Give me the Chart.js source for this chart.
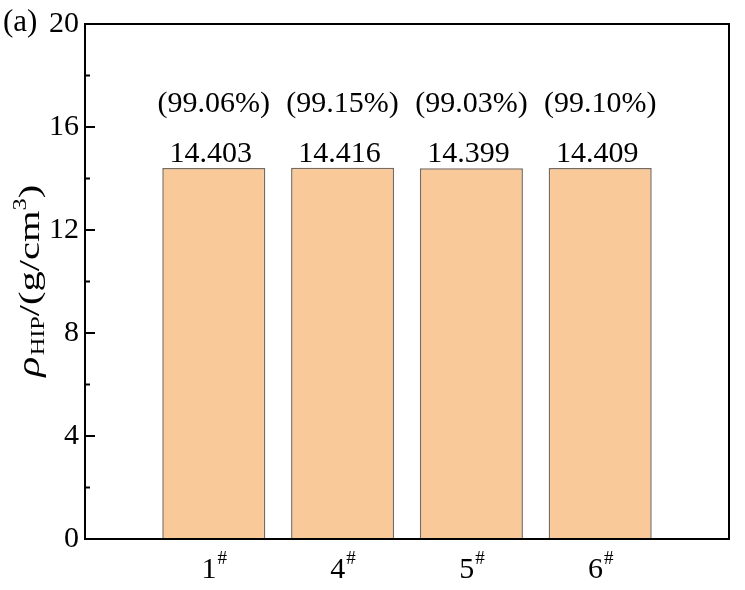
<!DOCTYPE html>
<html>
<head>
<meta charset="utf-8">
<script src="https://cdn.jsdelivr.net/npm/chart.js@4.4.1/dist/chart.umd.min.js"></script>
<style>
  html, body { margin: 0; padding: 0; background: #fff; }
  #wrap { width: 745px; height: 590px; }
</style>
</head>
<body>
<div id="wrap"><canvas id="hipChart" width="745" height="590"></canvas></div>
<script>
// 시료별 HIP 밀도 데이터
const samples = ['1', '4', '5', '6'];
const density = [14.403, 14.416, 14.399, 14.409];
const relDensity = ['(99.06%)', '(99.15%)', '(99.03%)', '(99.10%)'];
const yTicks = [0, 4, 8, 12, 16, 20];

const SERIF = '"Liberation Serif", "DejaVu Serif", serif';

// 틀, 안쪽 눈금, 라벨들 그리기
const decorPlugin = {
    id: 'decor',
    afterDraw(chart) {
        const ctx = chart.ctx;
        const area = chart.chartArea;
        const x = chart.scales.x;
        const y = chart.scales.y;
        ctx.save();

        // 안쪽 눈금
        ctx.strokeStyle = '#000';
        ctx.lineWidth = 2;
        y.ticks.forEach(t => {
            const py = y.getPixelForValue(t.value);
            const len = yTicks.includes(t.value) ? 10 : 5;
            ctx.beginPath();
            ctx.moveTo(area.left, py);
            ctx.lineTo(area.left + len, py);
            ctx.stroke();
        });

        // 테두리
        ctx.strokeRect(area.left, area.top, area.right - area.left, area.bottom - area.top);

        // 막대 위 값과 상대밀도
        ctx.fillStyle = '#000';
        ctx.textAlign = 'center';
        ctx.textBaseline = 'alphabetic';
        const meta = chart.getDatasetMeta(0);
        meta.data.forEach((bar, i) => {
            ctx.font = '30px ' + SERIF;
            ctx.fillText(density[i].toFixed(3), bar.x - 3, bar.y - 6);
            ctx.fillText(relDensity[i], bar.x, bar.y - 56);
        });

        // x축 라벨 (위첨자 #)
        samples.forEach((s, i) => {
            const px = x.getPixelForValue(i + 1);
            ctx.font = '30px ' + SERIF;
            const w1 = ctx.measureText(s).width;
            ctx.font = '19px ' + SERIF;
            const w2 = ctx.measureText('#').width;
            const start = px - (w1 + w2) / 2;
            ctx.textAlign = 'left';
            ctx.font = '30px ' + SERIF;
            ctx.fillText(s, start, area.bottom + 39);
            ctx.font = '19px ' + SERIF;
            ctx.fillText('#', start + w1 + 1, area.bottom + 25);
        });

        // y축 제목 ρHIP/(g/cm3)
        ctx.translate(39, (area.top + area.bottom) / 2);
        ctx.rotate(-Math.PI / 2);
        ctx.scale(1.35, 1);
        const parts = [
            { t: 'ρ', f: 'italic 31px ' + SERIF, dy: 0 },
            { t: 'HIP', f: '18px ' + SERIF, dy: 5 },
            { t: '/(g/cm', f: '30px ' + SERIF, dy: 0 },
            { t: '3', f: '18px ' + SERIF, dy: -13 },
            { t: ')', f: '30px ' + SERIF, dy: 0 }
        ];
        let total = 0;
        parts.forEach(p => { ctx.font = p.f; p.w = ctx.measureText(p.t).width; total += p.w; });
        let cx = -total / 2;
        ctx.textAlign = 'left';
        parts.forEach(p => {
            ctx.font = p.f;
            ctx.fillText(p.t, cx, p.dy);
            cx += p.w + (p.t === 'ρ' ? 1 : 0);
        });
        ctx.restore();

        // (a) 표시
        ctx.save();
        ctx.font = '31px ' + SERIF;
        ctx.fillStyle = '#000';
        ctx.textAlign = 'left';
        ctx.textBaseline = 'alphabetic';
        ctx.fillText('(a)', 3, 31);
        ctx.restore();
    }
};

new Chart(document.getElementById('hipChart').getContext('2d'), {
    type: 'bar',
    data: {
        datasets: [{
            data: density.map((v, i) => ({ x: i + 1, y: v })),
            backgroundColor: 'rgb(250, 201, 153)',
            borderColor: 'rgba(105, 90, 75, 0.9)',
            borderWidth: 1.5,
            barPercentage: 0.8,
            categoryPercentage: 1
        }]
    },
    options: {
        responsive: false,
        animation: false,
        layout: { padding: { top: 22, right: 16, left: 0, bottom: 0 } },
        plugins: {
            legend: { display: false },
            tooltip: { enabled: false }
        },
        scales: {
            x: {
                type: 'linear',
                offset: false,
                min: 0,
                max: 5,
                grid: { display: false, drawTicks: false },
                border: { display: false },
                ticks: { stepSize: 1, callback: () => '' },
                afterFit: scale => { scale.height = 51; }
            },
            y: {
                min: 0,
                max: 20,
                grid: { display: false, drawTicks: false },
                border: { display: false },
                ticks: {
                    stepSize: 2,
                    padding: 6,
                    color: '#000',
                    font: { family: SERIF, size: 30 },
                    callback: v => yTicks.includes(v) ? v : ''
                },
                afterFit: scale => { scale.width = 85; }
            }
        }
    },
    plugins: [decorPlugin]
});
</script>
</body>
</html>
